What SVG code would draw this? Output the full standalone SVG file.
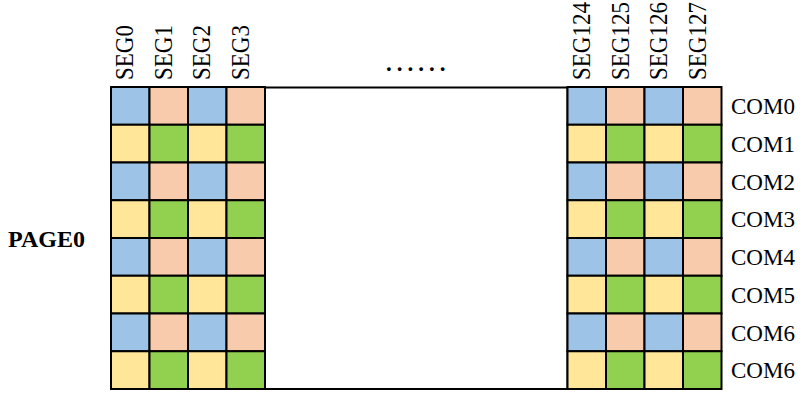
<svg xmlns="http://www.w3.org/2000/svg" width="802" height="394" viewBox="0 0 802 394">
<style>
text{font-family:"Liberation Serif","Times New Roman",serif;font-size:23px;fill:#000}
.seg{font-size:23px}
.b{fill:#9DC3E6}.p{fill:#F8CBAD}.y{fill:#FFE699}.g{fill:#92D050}
.cells rect{stroke:#000;stroke-width:2}
.bold{font-weight:bold;font-size:24px}
</style>
<rect width="802" height="394" fill="#fff"/>
<g id="middle-block"><rect x="265" y="87.5" width="302.5" height="301.5" fill="#fff" stroke="#000" stroke-width="2"/></g>
<g id="grid-left" class="cells">
<rect class="b" x="111" y="87" width="38.5" height="37.75"/><rect class="p" x="149.5" y="87" width="38.5" height="37.75"/><rect class="b" x="188" y="87" width="38.5" height="37.75"/><rect class="p" x="226.5" y="87" width="38.5" height="37.75"/>
<rect class="y" x="111" y="124.75" width="38.5" height="37.75"/><rect class="g" x="149.5" y="124.75" width="38.5" height="37.75"/><rect class="y" x="188" y="124.75" width="38.5" height="37.75"/><rect class="g" x="226.5" y="124.75" width="38.5" height="37.75"/>
<rect class="b" x="111" y="162.5" width="38.5" height="37.75"/><rect class="p" x="149.5" y="162.5" width="38.5" height="37.75"/><rect class="b" x="188" y="162.5" width="38.5" height="37.75"/><rect class="p" x="226.5" y="162.5" width="38.5" height="37.75"/>
<rect class="y" x="111" y="200.25" width="38.5" height="37.75"/><rect class="g" x="149.5" y="200.25" width="38.5" height="37.75"/><rect class="y" x="188" y="200.25" width="38.5" height="37.75"/><rect class="g" x="226.5" y="200.25" width="38.5" height="37.75"/>
<rect class="b" x="111" y="238" width="38.5" height="37.75"/><rect class="p" x="149.5" y="238" width="38.5" height="37.75"/><rect class="b" x="188" y="238" width="38.5" height="37.75"/><rect class="p" x="226.5" y="238" width="38.5" height="37.75"/>
<rect class="y" x="111" y="275.75" width="38.5" height="37.75"/><rect class="g" x="149.5" y="275.75" width="38.5" height="37.75"/><rect class="y" x="188" y="275.75" width="38.5" height="37.75"/><rect class="g" x="226.5" y="275.75" width="38.5" height="37.75"/>
<rect class="b" x="111" y="313.5" width="38.5" height="37.75"/><rect class="p" x="149.5" y="313.5" width="38.5" height="37.75"/><rect class="b" x="188" y="313.5" width="38.5" height="37.75"/><rect class="p" x="226.5" y="313.5" width="38.5" height="37.75"/>
<rect class="y" x="111" y="351.25" width="38.5" height="37.75"/><rect class="g" x="149.5" y="351.25" width="38.5" height="37.75"/><rect class="y" x="188" y="351.25" width="38.5" height="37.75"/><rect class="g" x="226.5" y="351.25" width="38.5" height="37.75"/>
</g>
<g id="grid-right" class="cells">
<rect class="b" x="567.5" y="87" width="38.5" height="37.75"/><rect class="p" x="606" y="87" width="38.5" height="37.75"/><rect class="b" x="644.5" y="87" width="38.5" height="37.75"/><rect class="p" x="683" y="87" width="38.5" height="37.75"/>
<rect class="y" x="567.5" y="124.75" width="38.5" height="37.75"/><rect class="g" x="606" y="124.75" width="38.5" height="37.75"/><rect class="y" x="644.5" y="124.75" width="38.5" height="37.75"/><rect class="g" x="683" y="124.75" width="38.5" height="37.75"/>
<rect class="b" x="567.5" y="162.5" width="38.5" height="37.75"/><rect class="p" x="606" y="162.5" width="38.5" height="37.75"/><rect class="b" x="644.5" y="162.5" width="38.5" height="37.75"/><rect class="p" x="683" y="162.5" width="38.5" height="37.75"/>
<rect class="y" x="567.5" y="200.25" width="38.5" height="37.75"/><rect class="g" x="606" y="200.25" width="38.5" height="37.75"/><rect class="y" x="644.5" y="200.25" width="38.5" height="37.75"/><rect class="g" x="683" y="200.25" width="38.5" height="37.75"/>
<rect class="b" x="567.5" y="238" width="38.5" height="37.75"/><rect class="p" x="606" y="238" width="38.5" height="37.75"/><rect class="b" x="644.5" y="238" width="38.5" height="37.75"/><rect class="p" x="683" y="238" width="38.5" height="37.75"/>
<rect class="y" x="567.5" y="275.75" width="38.5" height="37.75"/><rect class="g" x="606" y="275.75" width="38.5" height="37.75"/><rect class="y" x="644.5" y="275.75" width="38.5" height="37.75"/><rect class="g" x="683" y="275.75" width="38.5" height="37.75"/>
<rect class="b" x="567.5" y="313.5" width="38.5" height="37.75"/><rect class="p" x="606" y="313.5" width="38.5" height="37.75"/><rect class="b" x="644.5" y="313.5" width="38.5" height="37.75"/><rect class="p" x="683" y="313.5" width="38.5" height="37.75"/>
<rect class="y" x="567.5" y="351.25" width="38.5" height="37.75"/><rect class="g" x="606" y="351.25" width="38.5" height="37.75"/><rect class="y" x="644.5" y="351.25" width="38.5" height="37.75"/><rect class="g" x="683" y="351.25" width="38.5" height="37.75"/>
</g>
<g id="seg-labels">
<text class="seg" transform="translate(133,80) rotate(-90) scale(1,1.12)">SEG0</text>
<text class="seg" transform="translate(171.5,80) rotate(-90) scale(1,1.12)">SEG1</text>
<text class="seg" transform="translate(210,80) rotate(-90) scale(1,1.12)">SEG2</text>
<text class="seg" transform="translate(248.5,80) rotate(-90) scale(1,1.12)">SEG3</text>
<text class="seg" transform="translate(590,80) rotate(-90) scale(1,1.12)">SEG124</text>
<text class="seg" transform="translate(628.5,80) rotate(-90) scale(1,1.12)">SEG125</text>
<text class="seg" transform="translate(667,80) rotate(-90) scale(1,1.12)">SEG126</text>
<text class="seg" transform="translate(705.5,80) rotate(-90) scale(1,1.12)">SEG127</text>
</g>
<g id="ellipsis"><text x="386" y="71" font-weight="bold" letter-spacing="5">......</text></g>
<g id="com-labels">
<text x="731" y="113.5">COM0</text>
<text x="731" y="151.5">COM1</text>
<text x="731" y="189.5">COM2</text>
<text x="731" y="227">COM3</text>
<text x="731" y="264.5">COM4</text>
<text x="731" y="302.5">COM5</text>
<text x="731" y="340.5">COM6</text>
<text x="731" y="378">COM6</text>
</g>
<g id="page-label"><text class="bold" x="8" y="247">PAGE0</text></g>
</svg>
